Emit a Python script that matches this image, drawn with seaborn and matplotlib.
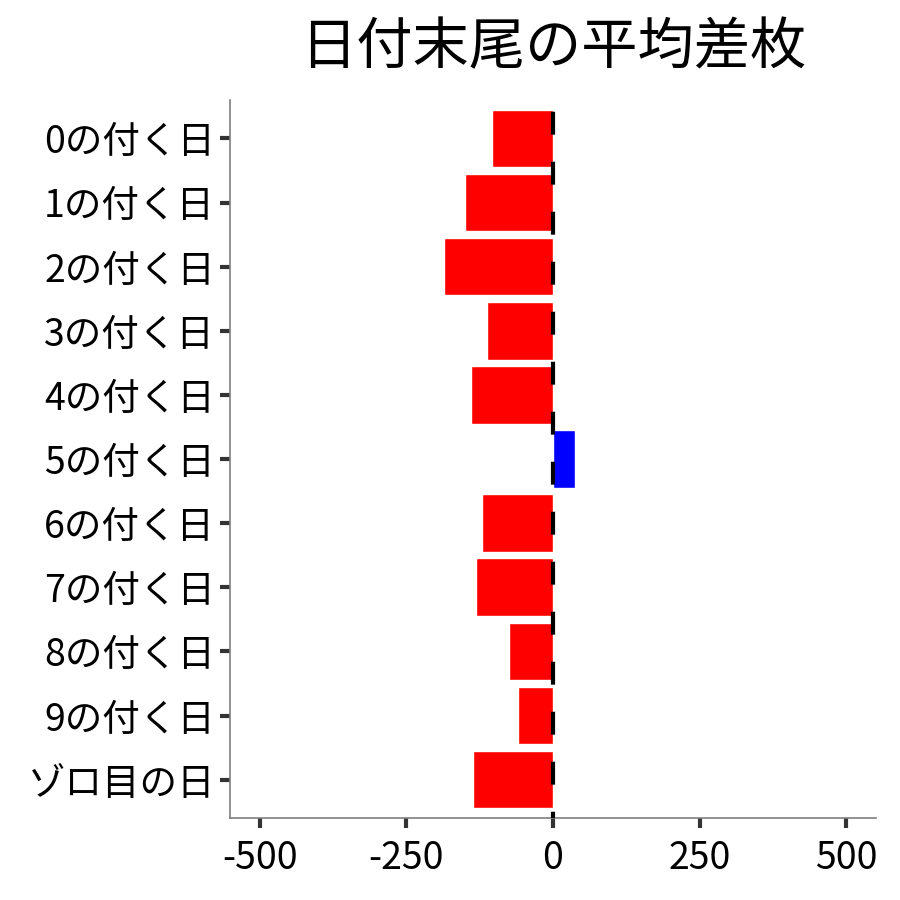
import matplotlib
matplotlib.use("Agg")
import matplotlib.pyplot as plt
import seaborn as sns
import pandas as pd

# data
days = ["0の付く日", "1の付く日", "2の付く日", "3の付く日", "4の付く日",
        "5の付く日", "6の付く日", "7の付く日", "8の付く日", "9の付く日", "ゾロ目の日"]
avg_diff = [-104, -150, -186, -113, -140, 37, -121, -131, -75, -60, -136]
xticks = [-500, -250, 0, 250, 500]

sns.set_style("white")
plt.rcParams["font.family"] = ["Noto Sans CJK JP", "DejaVu Sans"]

df = pd.DataFrame({"day": days, "diff": avg_diff})
df["sign"] = ["plus" if v > 0 else "minus" for v in df["diff"]]

fig = plt.figure(figsize=(9, 9), dpi=100)
ax = fig.add_axes([0.256, 0.091, 0.717, 0.798])

sns.barplot(data=df, x="diff", y="day", hue="sign", order=days,
            palette={"plus": "#0000ff", "minus": "#ff0000"},
            width=0.9, saturation=1, dodge=False, legend=False, ax=ax)

# zero line, long dashes like the reference
ax.axvline(0, color="black", linestyle=(4, (5.5, 6.5)), linewidth=3, zorder=5)

ax.set_xlim(-550, 550)
ax.set_ylim(len(days) - 0.4, -0.6)
ax.set_xticks(xticks)
ax.set_xticklabels([str(t) for t in xticks])
ax.set_xlabel("")
ax.set_ylabel("")
ax.set_title("日付末尾の平均差枚", fontsize=40.5, pad=26, color="black")

for side in ["top", "right"]:
    ax.spines[side].set_visible(False)
for side in ["left", "bottom"]:
    ax.spines[side].set_color("#7f7f7f")
    ax.spines[side].set_linewidth(1.2)
ax.tick_params(axis="both", which="major", labelsize=27, length=7, width=3,
               color="#333333", labelcolor="black", bottom=True, left=True)
ax.tick_params(axis="x", pad=8)
ax.tick_params(axis="y", pad=4)

fig.savefig("out.png", dpi=100)
